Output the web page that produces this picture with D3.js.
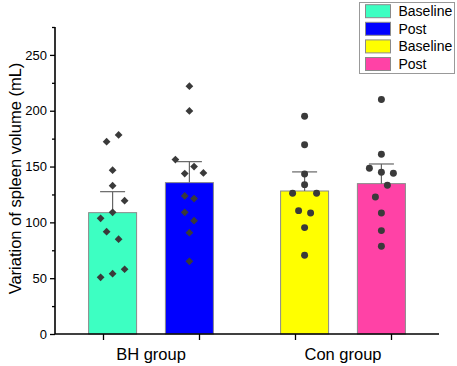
<!DOCTYPE html>
<html>
<head>
<meta charset="utf-8">
<script src="https://cdn.jsdelivr.net/npm/d3@7"></script>
<style>
  html, body { margin: 0; padding: 0; background: #fff; }
  svg { display: block; font-family: "Liberation Sans", Arial, sans-serif; }
</style>
</head>
<body>
<div id="chart"></div>
<script>
// groups and series
const groups = ["BH group", "Con group"];
const seriesNames = ["Baseline", "Post", "Baseline", "Post"];
const seriesGroup = [0, 0, 1, 1];
const seriesColors = ["#3dffc2", "#0000ff", "#ffff00", "#ff42a6"];
const seriesShapes = ["diamond", "diamond", "circle", "circle"];

// bar means and upper error (mean + SE)
const means = [108.7, 135.6, 128.1, 134.7];
const errTops = [127.5, 154.4, 145.2, 152.3];

// individual values (order within each bin = left to right)
const bhBaseline = [172.3, 178.3, 146.7, 132.9, 103.6, 109.0, 119.4, 91.7, 84.9, 50.8, 54.0, 58.0];
const bhPost = [222.0, 199.8, 156.2, 143.7, 150.0, 144.3, 123.7, 121.3, 109.0, 101.5, 90.8, 65.1];
const conBaseline = [195.0, 169.6, 143.4, 126.1, 133.8, 126.1, 110.5, 108.4, 95.3, 70.5];
const conPost = [210.0, 161.0, 148.5, 144.9, 144.0, 122.8, 133.2, 108.4, 92.6, 78.6];
const points = [bhBaseline, bhPost, conBaseline, conPost];

const yTicks = [0, 50, 100, 150, 200, 250];
const yLabel = "Variation of spleen volume (mL)";

const width = 457, height = 366;
const margin = { top: 27, right: 18, bottom: 32, left: 55 };
const innerW = width - margin.left - margin.right;
const innerH = height - margin.top - margin.bottom;

const svg = d3.select("#chart").append("svg")
    .attr("width", width)
    .attr("height", height);

const g = svg.append("g")
    .attr("transform", `translate(${margin.left},${margin.top})`);

// x: 4 slots, ticks at slot centres, bars pulled toward the group centre
const x = d3.scaleLinear().domain([0, 4]).range([0, innerW]);
const y = d3.scaleLinear().domain([0, 275]).range([innerH, 0]);

const tickPos = [0.5, 1.5, 2.5, 3.5];
const barPos = tickPos.map((t, i) => t + (i % 2 === 0 ? 0.1 : -0.1));
const barW = x(0.5) - x(0);

// bars
g.append("g")
    .selectAll("rect")
    .data(means)
    .join("rect")
    .attr("x", (d, i) => x(barPos[i]) - barW / 2)
    .attr("y", d => y(d))
    .attr("width", barW)
    .attr("height", d => y(0) - y(d))
    .attr("fill", (d, i) => seriesColors[i])
    .attr("stroke", "#8a8a8a")
    .attr("stroke-width", 1);

// error bars (upper only)
const eg = g.append("g").attr("stroke", "#666").attr("stroke-width", 1.2);
means.forEach((m, i) => {
    const cx = x(barPos[i]);
    eg.append("line")
        .attr("x1", cx).attr("x2", cx)
        .attr("y1", y(m)).attr("y2", y(errTops[i]));
    eg.append("line")
        .attr("x1", cx - 12.5).attr("x2", cx + 12.5)
        .attr("y1", y(errTops[i])).attr("y2", y(errTops[i]));
});

// scatter points, binned by 20 and spread symmetrically inside each bin
const binSize = 20;
points.forEach((vals, i) => {
    const bins = d3.group(vals.map((v, k) => ({ v, k })), d => Math.floor(d.v / binSize));
    const maxN = d3.max(Array.from(bins.values(), b => b.length));
    const spacing = maxN > 1 ? Math.min(12, 28 / (maxN - 1)) : 0;
    const cx = x(barPos[i]);
    const pts = [];
    bins.forEach(b => {
        b.forEach((d, j) => pts.push({ v: d.v, dx: (j - (b.length - 1) / 2) * spacing }));
    });
    const sym = d3.symbol()
        .type(seriesShapes[i] === "diamond" ? d3.symbolSquare : d3.symbolCircle)
        .size(seriesShapes[i] === "diamond" ? 30 : 38);
    g.append("g")
        .selectAll("path")
        .data(pts)
        .join("path")
        .attr("d", sym)
        .attr("transform", d => `translate(${cx + d.dx},${y(d.v)})` + (seriesShapes[i] === "diamond" ? " rotate(45)" : ""))
        .attr("fill", "#3a3a3a");
});

// y axis with minor ticks
const yAxis = g.append("g")
    .call(d3.axisLeft(y).tickValues(d3.range(0, 276, 25)).tickSize(5).tickFormat(d => yTicks.includes(d) ? d : ""))
    .call(a => a.select(".domain").attr("stroke-width", 1.6).attr("d", `M0,${innerH}V0`));
yAxis.selectAll(".tick line")
    .attr("stroke-width", 1.3)
    .attr("x2", d => yTicks.includes(d) ? -5 : -3);
yAxis.selectAll(".tick text")
    .attr("font-size", 13)
    .attr("font-family", "Liberation Sans, Arial, sans-serif")
    .attr("fill", "#000")
    .attr("x", -8);

// x axis
const xAxis = g.append("g")
    .attr("transform", `translate(0,${innerH})`)
    .call(d3.axisBottom(x).tickValues(tickPos).tickSize(6).tickFormat(""))
    .call(a => a.select(".domain").attr("stroke-width", 1.6).attr("d", `M0,0H${innerW}`));
xAxis.selectAll(".tick line").attr("stroke-width", 1.3);

g.append("g")
    .selectAll("text")
    .data(groups)
    .join("text")
    .attr("x", (d, i) => x(1 + 2 * i))
    .attr("y", innerH + 26)
    .attr("text-anchor", "middle")
    .attr("font-size", 16.5)
    .attr("fill", "#000")
    .text(d => d);

// y label
svg.append("text")
    .attr("transform", `translate(21,${margin.top + innerH / 2 - 2}) rotate(-90)`)
    .attr("text-anchor", "middle")
    .attr("font-size", 16.5)
    .attr("fill", "#000")
    .text(yLabel);

// legend
const lg = svg.append("g").attr("transform", "translate(359.5,2.5)");
lg.append("rect")
    .attr("width", 95)
    .attr("height", 71)
    .attr("fill", "#fff")
    .attr("stroke", "#999");
const items = lg.selectAll("g.item")
    .data(seriesNames)
    .join("g")
    .attr("class", "item")
    .attr("transform", (d, i) => `translate(6,${8.7 + i * 17.6})`);
items.append("rect")
    .attr("y", -6.5)
    .attr("width", 25)
    .attr("height", 13)
    .attr("fill", (d, i) => seriesColors[i])
    .attr("stroke", "#8a8a8a");
items.append("text")
    .attr("x", 33)
    .attr("y", 5)
    .attr("font-size", 14)
    .attr("fill", "#000")
    .text(d => d);
</script>
</body>
</html>
